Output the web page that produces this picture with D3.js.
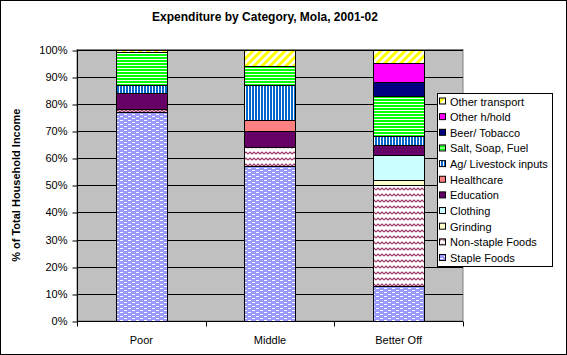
<!DOCTYPE html>
<html><head><meta charset="utf-8">
<script src="https://cdn.jsdelivr.net/npm/d3@7"></script>
<style>body{margin:0;background:#fff}svg{display:block}text{font-family:"Liberation Sans",Arial,sans-serif}</style>
</head><body>
<script>
const categories = ["Poor", "Middle", "Better Off"];
const seriesNames = ["Staple Foods","Non-staple Foods","Grinding","Clothing","Education","Healthcare","Ag/ Livestock inputs","Salt, Soap, Fuel","Beer/ Tobacco","Other h/hold","Other transport"];
const stapleFoods     = [77, 57, 13];
const nonStapleFoods  = [1, 7, 37];
const grinding        = [0, 0, 2];
const clothing        = [0, 0, 9];
const education       = [6, 6, 4];
const healthcare      = [0, 4, 0];
const agLivestock     = [3, 13, 3];
const saltSoapFuel    = [12, 7, 15];
const beerTobacco     = [0, 0, 5];
const otherHhold      = [0, 0, 7];
const otherTransport  = [1, 6, 5];
const yTicks = [0,10,20,30,40,50,60,70,80,90,100];

const seriesValues = [stapleFoods,nonStapleFoods,grinding,clothing,education,healthcare,agLivestock,saltSoapFuel,beerTobacco,otherHhold,otherTransport];
const rows = categories.map((c,i)=>{const r={cat:c}; seriesNames.forEach((s,j)=>r[s]=seriesValues[j][i]); return r;});

const W=567,H=355;
const svg=d3.select("body").append("svg").attr("width",W).attr("height",H);
const defs=svg.append("defs");
function pat(id,w,h,draw){const p=defs.append("pattern").attr("id",id).attr("patternUnits","userSpaceOnUse").attr("width",w).attr("height",h);
 draw(p); return "url(#"+id+")";}
const base={"Staple Foods":"#9999FF","Non-staple Foods":"#FFFFFF","Grinding":"#FFFFCC","Clothing":"#CCFFFF","Education":"#660066","Healthcare":"#FF8080",
 "Ag/ Livestock inputs":"#FFFFFF","Salt, Soap, Fuel":"#FFFFFF","Beer/ Tobacco":"#000080","Other h/hold":"#FF00FF","Other transport":"#FFFFFF"};
const over={};
over["Staple Foods"]=pat("pStaple",8,4,p=>{
 [[0,0,3],[4,2,3]].forEach(r=>p.append("rect").attr("x",r[0]).attr("y",r[1]).attr("width",r[2]).attr("height",1).attr("fill","#FFFFFF"));});
over["Non-staple Foods"]=pat("pNon",8,6,p=>{p.append("path").attr("d","M0,4 L2,2 L4,4 L6,2 L8,4").attr("fill","none").attr("stroke","#993366").attr("stroke-width",1.2);});
over["Ag/ Livestock inputs"]=pat("pAg",3,3,p=>p.append("rect").attr("width",2).attr("height",3).attr("fill","#0066CC"));
over["Salt, Soap, Fuel"]=pat("pSalt",3,3,p=>p.append("rect").attr("width",3).attr("height",2).attr("fill","#00FF00"));
over["Other transport"]=pat("pTrans",8,8,p=>{p.append("path").attr("d","M-2,10 L10,-2 M-6,6 L6,-6 M2,14 L14,2").attr("stroke","#FFFF00").attr("stroke-width",3);});

svg.append("rect").attr("x",0.5).attr("y",0.5).attr("width",W-1).attr("height",H-1).attr("fill","#fff").attr("stroke","#000");

const L=77,R=463,T=49.5,B=321;
const x=d3.scaleBand().domain(categories).range([L,R]).paddingInner(0.6).paddingOuter(0.3);
const xCat=d3.scaleBand().domain(categories).range([L,R]);
const y=d3.scaleLinear().domain([0,100]).range([B,T]);

svg.append("rect").attr("x",L).attr("y",T).attr("width",R-L).attr("height",B-T).attr("fill","#C0C0C0").attr("stroke","#808080");
svg.append("g").selectAll("line").data(yTicks.slice(1)).join("line")
 .attr("x1",L).attr("x2",R).attr("y1",d=>Math.round(y(d))+0.5).attr("y2",d=>Math.round(y(d))+0.5).attr("stroke","#000");

const stack=d3.stack().keys(seriesNames)(rows);
const bw=x.bandwidth();
const segs=[];
stack.forEach(s=>s.forEach(d=>{if(d[1]-d[0]>0) segs.push({key:s.key,cat:d.data.cat,y0:d[0],y1:d[1]});}));
const sg=svg.append("g").selectAll("g").data(segs).join("g");
const bx=d=>Math.round(xCat(d.cat)+xCat.bandwidth()/2-bw/2)+0.5;
sg.append("rect").attr("x",bx).attr("width",Math.round(bw))
 .attr("y",d=>Math.round(y(d.y1))+0.5).attr("height",d=>Math.round(y(d.y0))-Math.round(y(d.y1)))
 .attr("fill",d=>base[d.key]);
sg.filter(d=>over[d.key]).append("rect").attr("x",bx).attr("width",Math.round(bw))
 .attr("y",d=>Math.round(y(d.y1))+0.5).attr("height",d=>Math.round(y(d.y0))-Math.round(y(d.y1)))
 .attr("fill",d=>over[d.key]);
sg.append("rect").attr("x",bx).attr("width",Math.round(bw))
 .attr("y",d=>Math.round(y(d.y1))+0.5).attr("height",d=>Math.round(y(d.y0))-Math.round(y(d.y1)))
 .attr("fill","none").attr("stroke","#000");

const yAxis=svg.append("g").attr("transform",`translate(${L+0.5},0)`).call(d3.axisLeft(y).tickValues(yTicks).tickSize(5).tickPadding(5).tickFormat(d=>d+"%"));
yAxis.select(".domain").attr("d",`M0,${T}V${B}`);
yAxis.selectAll("text").attr("font-size",11).attr("font-family","Liberation Sans, Arial, sans-serif").attr("fill","#000");
yAxis.selectAll("line").attr("transform",d=>`translate(0,${Math.round(y(d))+0.5-y(d)})`);
const xAxis=svg.append("g").attr("transform",`translate(0,${B+0.5})`);
xAxis.append("line").attr("x1",L).attr("x2",R).attr("stroke","#000");
xAxis.selectAll("line.t").data([0,1,2,3]).join("line").attr("class","t")
 .attr("x1",i=>Math.round(L+i*xCat.step())+0.5).attr("x2",i=>Math.round(L+i*xCat.step())+0.5).attr("y1",0).attr("y2",5).attr("stroke","#000");
xAxis.selectAll("text").data(categories).join("text").attr("x",d=>xCat(d)+xCat.bandwidth()/2).attr("y",22)
 .attr("text-anchor","middle").attr("font-size",11).text(d=>d);

svg.append("text").attr("x",265).attr("y",21).attr("text-anchor","middle").attr("font-size",12).attr("font-weight","bold").text("Expenditure by Category, Mola, 2001-02");
svg.append("text").attr("transform",`translate(20,${(T+B)/2}) rotate(-90)`).attr("text-anchor","middle").attr("font-size",11).attr("font-weight","bold").text("% of Total Household Income");

const lg=svg.append("g");
lg.append("rect").attr("x",437.5).attr("y",93.5).attr("width",115).attr("height",173).attr("fill","#fff").attr("stroke","#000");
const items=seriesNames.slice().reverse();
const it=lg.selectAll("g").data(items).join("g").attr("transform",(d,i)=>`translate(0,${101.5+i*15.65})`);
it.append("rect").attr("x",439.5).attr("y",-3.5).attr("width",6).attr("height",6).attr("fill",d=>base[d]);
it.filter(d=>over[d]).append("rect").attr("x",439.5).attr("y",-3.5).attr("width",6).attr("height",6).attr("fill",d=>over[d]);
it.append("rect").attr("x",439.5).attr("y",-3.5).attr("width",6).attr("height",6).attr("fill","none").attr("stroke","#000");
it.append("text").attr("x",450).attr("y",4).attr("font-size",11).text(d=>d);
</script>
</body></html>
